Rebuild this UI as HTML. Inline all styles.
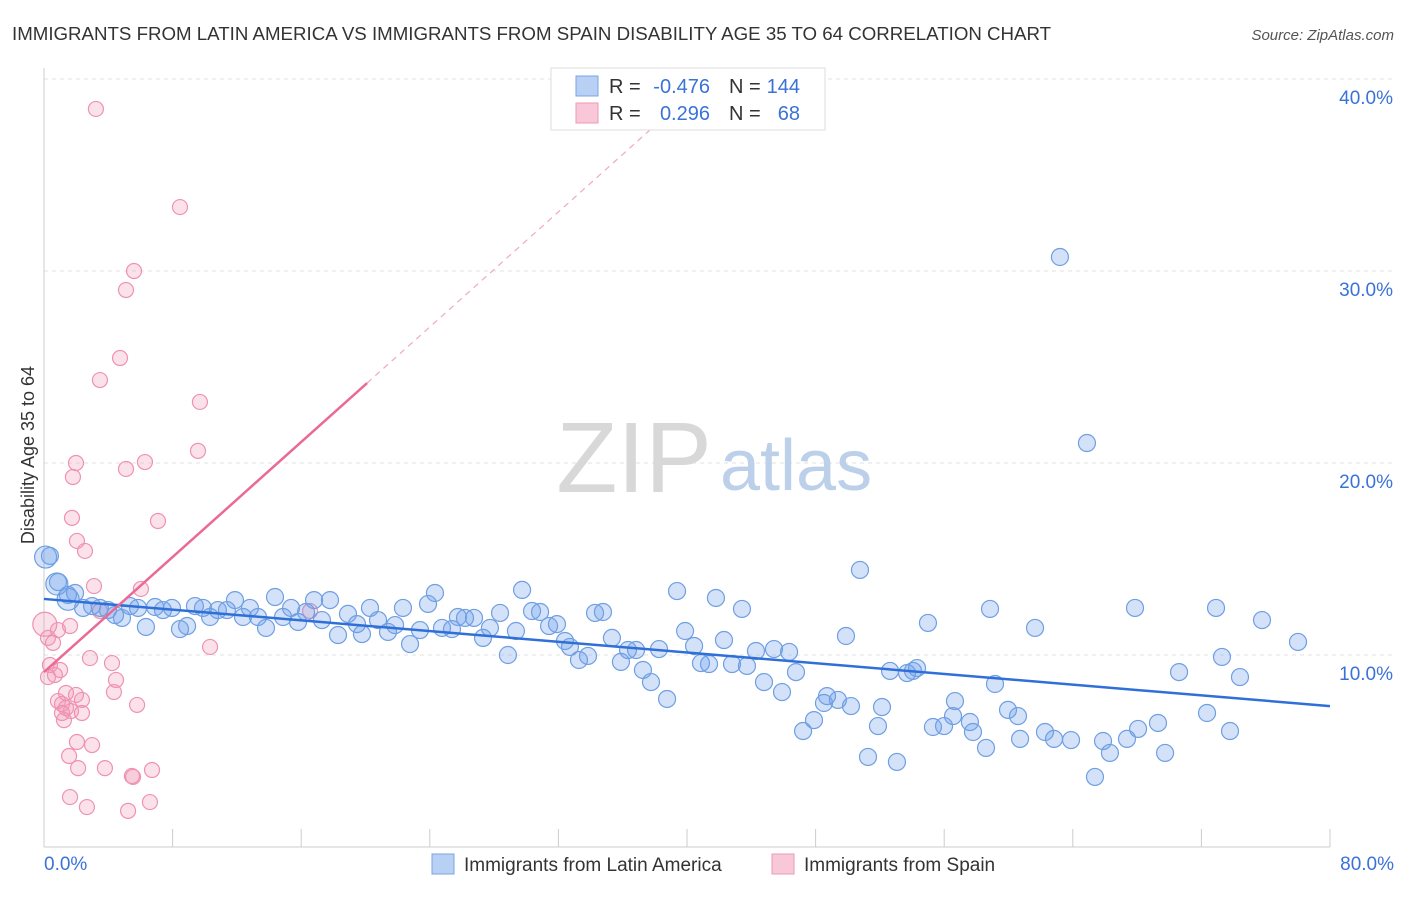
<!DOCTYPE html>
<html><head><meta charset="utf-8"><style>
body{margin:0;background:#fff;font-family:"Liberation Sans",sans-serif;}
svg text{font-family:"Liberation Sans",sans-serif;}
</style></head><body>
<svg id="chart" width="1406" height="892" xmlns="http://www.w3.org/2000/svg">
<text x="12" y="40" font-size="18.7" fill="#333">IMMIGRANTS FROM LATIN AMERICA VS IMMIGRANTS FROM SPAIN DISABILITY AGE 35 TO 64 CORRELATION CHART</text>
<text x="1394" y="40" font-size="15" fill="#555" text-anchor="end" font-style="italic">Source: ZipAtlas.com</text>
<text x="34" y="455" font-size="18" fill="#333" text-anchor="middle" transform="rotate(-90 34 455)">Disability Age 35 to 64</text>
<g id="grid"></g>
<g id="axes"></g>
<text x="634" y="492" font-size="100" fill="#d8d8d8" text-anchor="middle" font-family="Liberation Serif">ZIP</text>
<text x="720" y="490" font-size="72" fill="#bcd0ea">atlas</text>
<g id="pts"></g>
<g id="trends"></g>
<g>
<rect x="551" y="68" width="274" height="62" fill="#fff" stroke="#ddd"/>
<rect x="576" y="76" width="22" height="20" fill="#b8d0f4" stroke="#7aa4e4"/>
<rect x="576" y="103" width="22" height="20" fill="#f8c8d8" stroke="#ee9ab6"/>
<text x="609" y="93" font-size="20" fill="#333">R =</text>
<text x="710" y="93" font-size="20" fill="#3a72d8" text-anchor="end">-0.476</text>
<text x="729" y="93" font-size="20" fill="#333">N =</text>
<text x="800" y="93" font-size="20" fill="#3a72d8" text-anchor="end">144</text>
<text x="609" y="120" font-size="20" fill="#333">R =</text>
<text x="710" y="120" font-size="20" fill="#3a72d8" text-anchor="end">0.296</text>
<text x="729" y="120" font-size="20" fill="#333">N =</text>
<text x="800" y="120" font-size="20" fill="#3a72d8" text-anchor="end">68</text>
</g>
<g>
<rect x="432" y="854" width="22" height="20" fill="#b8d0f4" stroke="#7aa4e4"/>
<text x="464" y="871" font-size="19" fill="#333">Immigrants from Latin America</text>
<rect x="772" y="854" width="22" height="20" fill="#f8c8d8" stroke="#ee9ab6"/>
<text x="804" y="871" font-size="19" fill="#333">Immigrants from Spain</text>
</g>
</svg>
<script>
const blueX=[0.37,0.87,1.49,1.93,2.43,2.99,3.48,3.98,4.42,4.85,5.35,5.85,6.34,6.91,7.4,7.96,8.46,8.9,9.39,9.89,10.33,10.82,11.38,11.88,12.38,12.81,13.31,13.81,14.37,14.87,15.37,15.8,16.3,16.8,17.29,17.79,18.29,18.91,19.47,19.78,20.28,20.78,21.4,21.84,22.33,22.77,23.39,23.89,24.32,24.76,25.38,25.75,26.19,26.75,27.31,27.74,28.37,28.86,29.36,29.74,30.36,30.86,31.42,31.91,32.41,32.72,33.28,33.84,34.28,34.77,35.33,35.89,36.33,36.83,37.26,37.76,38.26,38.76,39.38,39.88,40.44,40.87,41.37,41.8,42.3,42.8,43.42,43.73,44.29,44.79,45.41,45.91,46.35,46.78,47.22,47.9,48.52,48.71,49.39,49.89,50.2,50.76,51.26,51.88,52.13,52.63,53.06,53.69,54.06,54.31,54.99,55.3,55.99,56.55,56.67,57.6,57.79,58.6,58.85,59.16,59.97,60.59,60.72,61.65,62.27,62.83,63.2,63.89,64.88,65.38,65.88,66.31,67.37,67.87,68.06,69.3,69.74,70.61,72.35,72.91,73.28,73.78,74.4,75.77,78.01];
const blueY=[15.16,13.8,13.13,13.23,12.45,12.55,12.45,12.34,12.08,11.93,12.55,12.45,11.46,12.5,12.34,12.45,11.35,11.51,12.55,12.45,11.98,12.34,12.34,12.86,11.98,12.45,11.98,11.41,13.02,11.98,12.45,11.72,12.24,12.86,11.82,12.86,11.04,12.14,11.61,11.09,12.45,11.82,11.2,11.56,12.45,10.57,11.3,12.66,13.23,11.41,11.35,11.98,11.93,11.93,10.89,11.41,12.19,10.0,11.25,13.39,12.29,12.24,11.51,11.61,10.73,10.42,9.74,9.95,12.19,12.24,10.89,9.64,10.26,10.26,9.22,8.59,10.31,7.71,13.33,11.25,10.47,9.58,9.53,12.97,10.78,9.53,12.4,9.43,10.21,8.59,10.31,8.07,10.16,9.11,6.04,6.61,7.5,7.86,7.66,10.99,7.34,14.43,4.69,6.3,7.29,9.17,4.43,9.06,9.17,9.32,11.67,6.25,6.3,6.82,7.6,6.51,5.99,5.16,12.4,8.49,7.14,6.82,5.63,11.41,5.99,5.63,30.73,5.57,21.04,3.65,5.52,4.9,5.63,12.45,6.15,6.46,4.9,9.11,6.98,12.45,9.9,6.04,8.85,11.82,10.68];
const pinkX=[3.23,8.46,5.6,5.1,4.73,3.48,9.7,9.58,6.28,5.1,1.99,1.8,7.09,1.74,2.05,2.55,3.11,6.03,3.48,16.55,1.62,0.87,0.25,0.56,10.33,2.86,4.23,0.37,1.0,0.25,0.68,4.48,1.37,1.99,2.36,4.35,0.87,1.12,1.37,1.68,1.12,2.36,5.79,1.24,2.05,2.99,1.56,2.12,3.79,5.47,5.54,6.72,1.62,2.67,6.59,5.23];
const pinkY=[38.44,33.33,30.0,29.01,25.47,24.32,23.18,20.63,20.05,19.69,20.0,19.27,16.98,17.14,15.94,15.42,13.59,13.44,12.29,12.29,11.51,11.3,10.89,10.63,10.42,9.84,9.58,9.48,9.22,8.85,8.96,8.7,8.02,7.92,7.66,8.07,7.6,7.45,7.24,7.08,6.98,6.98,7.4,6.61,5.47,5.31,4.74,4.11,4.11,3.7,3.65,4.01,2.6,2.08,2.34,1.88];
const bigBlueX=[0.1,0.8,1.5],bigBlueY=[15.1,13.7,12.9];
const bigPinkX=[0.05],bigPinkY=[11.6];
const blueTrend=[12.92,7.34]; // y at x=0 and x=80
const pinkTrend=[9.11,0.749]; // intercept, slope
const yTicks=[10,20,30,40];
const xTickLabels=["0.0%","80.0%"];
const NS='http://www.w3.org/2000/svg';
const sx=v=>44+v*16.075, sy=v=>847-v*19.2;
function mk(p,t,a){const e=document.createElementNS(NS,t);for(const k in a)e.setAttribute(k,a[k]);p.appendChild(e);return e;}
const grid=document.getElementById('grid'),axes=document.getElementById('axes');
yTicks.forEach(t=>{
 const l=mk(grid,'line',{x1:44,x2:1394,y1:sy(t),y2:sy(t),stroke:'#e2e2e2','stroke-dasharray':'4 4'});
 
 
 const tx=mk(axes,'text',{x:1393,y:sy(t)+25,'font-size':19,fill:'#3a72d8','text-anchor':'end'});
 tx.textContent=t.toFixed(1)+'%';
 
 
});
mk(axes,'line',{x1:44,x2:44,y1:68,y2:847,stroke:'#ccc'});
mk(axes,'line',{x1:44,x2:1330,y1:847,y2:847,stroke:'#ccc'});
for(let i=0;i<=10;i++){const x=sx(i*8);mk(axes,'line',{x1:x,x2:x,y1:829,y2:847,stroke:'#ccc'});}
const xl0=mk(axes,'text',{x:44,y:870,'font-size':19,fill:'#3a72d8'});xl0.textContent=xTickLabels[0];


const xl1=mk(axes,'text',{x:1394,y:870,'font-size':19,fill:'#3a72d8','text-anchor':'end'});xl1.textContent=xTickLabels[1];


const pts=document.getElementById('pts');
function dot(x,y,r,fill,stroke,name){const c=mk(pts,'circle',{cx:sx(x),cy:sy(y),r:r,fill:fill,stroke:stroke,'stroke-width':1.2});
 
 }
pinkX.forEach((x,i)=>dot(x,pinkY[i],7.5,'rgba(242,150,180,0.28)','#ef92b1','point-spain'));
bigPinkX.forEach((x,i)=>dot(x,bigPinkY[i],12,'rgba(242,150,180,0.28)','#ef92b1','point-spain'));
blueX.forEach((x,i)=>dot(x,blueY[i],8.5,'rgba(110,160,235,0.3)','#6f9fe2','point-latin-america'));
bigBlueX.forEach((x,i)=>dot(x,bigBlueY[i],11,'rgba(110,160,235,0.3)','#6f9fe2','point-latin-america'));
const tr=document.getElementById('trends');
const bl=mk(tr,'line',{x1:sx(0),y1:sy(blueTrend[0]),x2:sx(80),y2:sy(blueTrend[1]),stroke:'#2f6fd8','stroke-width':2.5});


const pl=mk(tr,'line',{x1:sx(0),y1:sy(pinkTrend[0]),x2:sx(20.1),y2:sy(pinkTrend[0]+pinkTrend[1]*20.1),stroke:'#ea6a94','stroke-width':2.5});


const pd=mk(tr,'line',{x1:sx(20.1),y1:sy(pinkTrend[0]+pinkTrend[1]*20.1),x2:sx(38.5),y2:sy(pinkTrend[0]+pinkTrend[1]*38.5),stroke:'#f0a8c0','stroke-width':1.2,'stroke-dasharray':'6 5'});


</script>
</body></html>
